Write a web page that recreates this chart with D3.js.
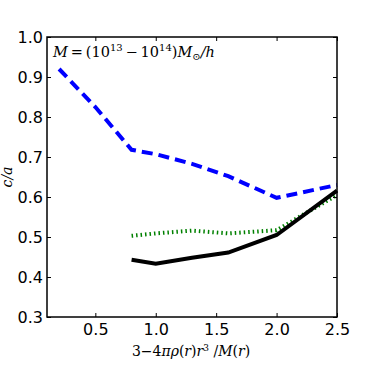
<!DOCTYPE html>
<html>
<head>
<meta charset="utf-8">
<script src="https://cdn.jsdelivr.net/npm/d3@7"></script>
<style>
  body { margin: 0; background: white; }
  svg { display: block; }
</style>
</head>
<body>
<svg></svg>
<script>
// values
var blueX = [0.2, 0.5, 0.8, 1.0, 1.3, 1.6, 2.0, 2.5];
var blueY = [0.92, 0.825, 0.718, 0.707, 0.683, 0.652, 0.598, 0.63];
var greenX = [0.8, 1.0, 1.3, 1.6, 2.0, 2.5];
var greenY = [0.503, 0.509, 0.516, 0.509, 0.517, 0.605];
var blackX = [0.8, 1.0, 1.3, 1.6, 2.0, 2.5];
var blackY = [0.443, 0.433, 0.448, 0.461, 0.505, 0.616];
var xTicks = [0.5, 1.0, 1.5, 2.0, 2.5];
var yTicks = [0.3, 0.4, 0.5, 0.6, 0.7, 0.8, 0.9, 1.0];

var width = 374, height = 374;
var margin = {top: 37, right: 37, bottom: 57, left: 47};

var svg = d3.select("svg").attr("width", width).attr("height", height);

var x = d3.scaleLinear().domain([0.1, 2.5]).range([margin.left, width - margin.right]);
var y = d3.scaleLinear().domain([0.3, 1.0]).range([height - margin.bottom, margin.top]);

var zip = function(xs, ys) {
  return xs.map(function(v, i) { return [v, ys[i]]; });
};

var line = d3.line()
  .x(function(d) { return x(d[0]); })
  .y(function(d) { return y(d[1]); });

var plot = svg.append("g");

plot.append("path")
  .datum(zip(blueX, blueY))
  .attr("d", line)
  .attr("fill", "none")
  .attr("stroke", "#0000ff")
  .attr("stroke-width", 4)
  .attr("stroke-dasharray", "11,6");

plot.append("path")
  .datum(zip(greenX, greenY))
  .attr("d", line)
  .attr("fill", "none")
  .attr("stroke", "#008000")
  .attr("stroke-width", 4)
  .attr("stroke-dasharray", "1.5,3");

plot.append("path")
  .datum(zip(blackX, blackY))
  .attr("d", line)
  .attr("fill", "none")
  .attr("stroke", "#000")
  .attr("stroke-width", 4);

// axes: ticks inside on all four sides
var tickFont = "DejaVu Sans, sans-serif";

var axBottom = svg.append("g")
  .attr("transform", "translate(0," + y(0.3) + ")")
  .call(d3.axisBottom(x).tickValues(xTicks).tickFormat(d3.format(".1f")).tickSizeInner(-4).tickSizeOuter(0).tickPadding(7));
var axTop = svg.append("g")
  .attr("transform", "translate(0," + y(1.0) + ")")
  .call(d3.axisTop(x).tickValues(xTicks).tickFormat("").tickSizeInner(-4).tickSizeOuter(0));
var axLeft = svg.append("g")
  .attr("transform", "translate(" + x(0.1) + ",0)")
  .call(d3.axisLeft(y).tickValues(yTicks).tickFormat(d3.format(".1f")).tickSizeInner(-4).tickSizeOuter(0).tickPadding(4));
var axRight = svg.append("g")
  .attr("transform", "translate(" + x(2.5) + ",0)")
  .call(d3.axisRight(y).tickValues(yTicks).tickFormat("").tickSizeInner(-4).tickSizeOuter(0));

[axBottom, axTop, axLeft, axRight].forEach(function(a) {
  a.select(".domain").remove();
  a.selectAll(".tick line").attr("stroke", "#000").attr("stroke-width", 1);
  a.selectAll("text").attr("font-family", tickFont).attr("font-size", 16).attr("fill", "#000");
});

svg.append("rect")
  .attr("x", x(0.1)).attr("y", y(1.0))
  .attr("width", x(2.5) - x(0.1)).attr("height", y(0.3) - y(1.0))
  .attr("fill", "none").attr("stroke", "#000").attr("stroke-width", 1.5);

var serif = "DejaVu Serif, serif";

// annotation
var ann = svg.append("text")
  .attr("x", 53).attr("y", 57)
  .attr("font-family", serif).attr("font-size", 14.5);
ann.append("tspan").attr("font-style", "italic").text("M");
ann.append("tspan").text("\u2009=\u2009(10");
ann.append("tspan").attr("font-size", 10).attr("dy", -6).text("13");
ann.append("tspan").attr("dy", 6).text("\u2009\u2212\u200910");
ann.append("tspan").attr("font-size", 10).attr("dy", -6).text("14");
ann.append("tspan").attr("dy", 6).text(")");
ann.append("tspan").attr("font-style", "italic").text("M");
ann.append("tspan").attr("font-size", 10).attr("dy", 3).text("\u2299");
ann.append("tspan").attr("dy", -3).attr("font-style", "italic").text("/h");

// x label
var xl = svg.append("text")
  .attr("x", 191).attr("y", 356)
  .attr("text-anchor", "middle")
  .attr("font-family", serif).attr("font-size", 14);
xl.append("tspan").text("3\u22124");
xl.append("tspan").attr("font-style", "italic").text("\u03c0\u03c1");
xl.append("tspan").text("(");
xl.append("tspan").attr("font-style", "italic").text("r");
xl.append("tspan").text(")");
xl.append("tspan").attr("font-style", "italic").text("r");
xl.append("tspan").attr("font-size", 9).attr("dy", -5).text("3");
xl.append("tspan").attr("dy", 5).text(" /");
xl.append("tspan").attr("font-style", "italic").text("M");
xl.append("tspan").text("(");
xl.append("tspan").attr("font-style", "italic").text("r");
xl.append("tspan").text(")");

// y label
svg.append("text")
  .attr("transform", "translate(12," + y(0.65) + ")rotate(-90)")
  .attr("text-anchor", "middle")
  .attr("font-family", serif).attr("font-size", 14)
  .attr("font-style", "italic")
  .text("c/a");
</script>
</body>
</html>
